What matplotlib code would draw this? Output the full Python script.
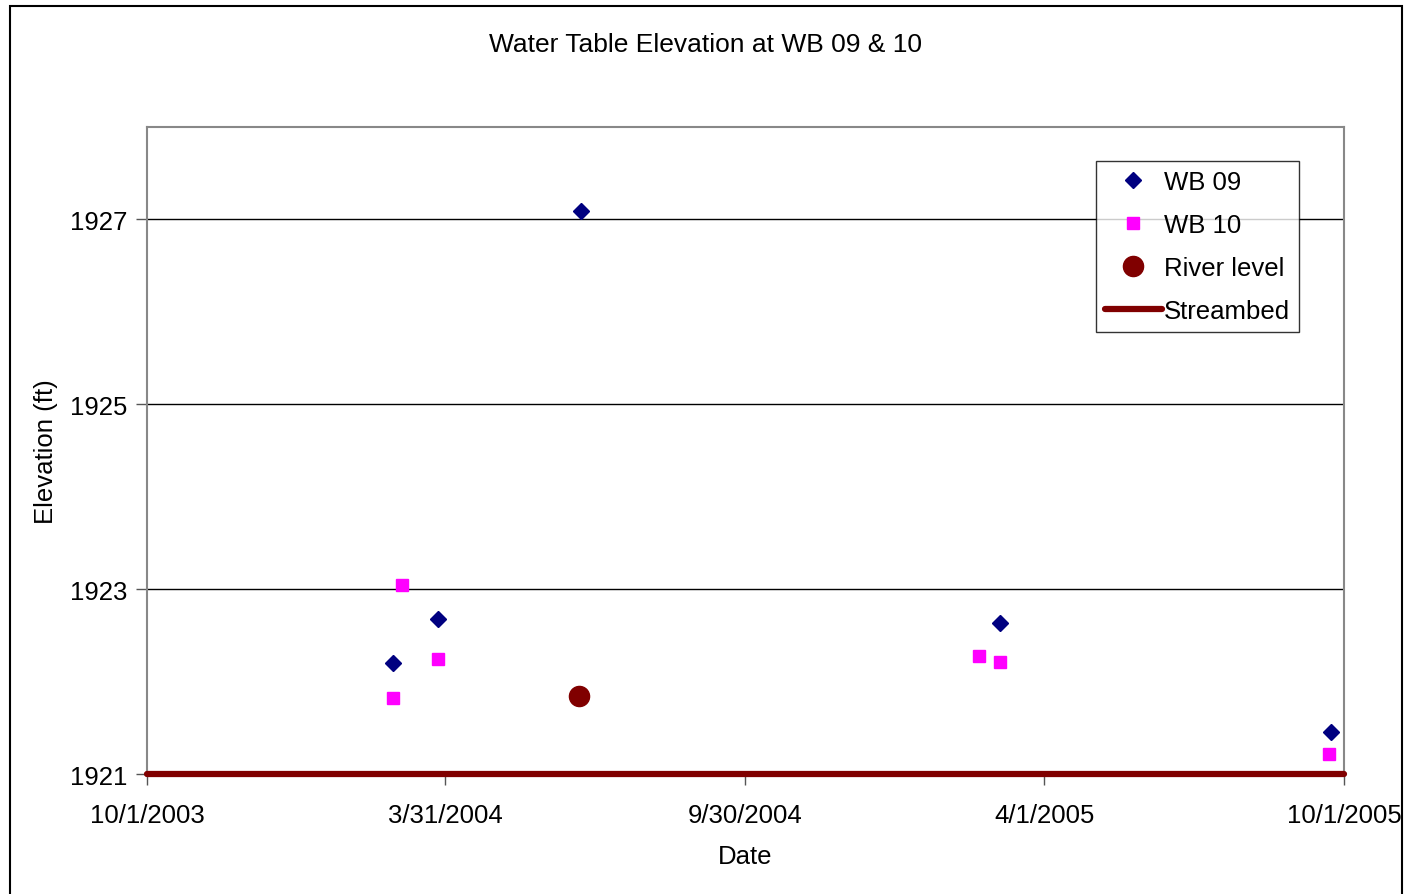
import pandas as pd
import matplotlib.pyplot as plt
from matplotlib.patches import Rectangle

plt.rcParams['font.family'] = ['Liberation Sans', 'DejaVu Sans']

# WB 09 observations
wb09_dates = pd.to_datetime(['2004-02-28', '2004-03-27', '2004-06-22', '2005-03-05', '2005-09-23'])
wb09_elev = [1922.20, 1922.68, 1927.09, 1922.63, 1921.46]

# WB 10 observations
wb10_dates = pd.to_datetime(['2004-02-28', '2004-03-05', '2004-03-27', '2005-02-20', '2005-03-05', '2005-09-22'])
wb10_elev = [1921.82, 1923.05, 1922.25, 1922.28, 1922.21, 1921.22]

# river level
river_dates = pd.to_datetime(['2004-06-21'])
river_elev = [1921.84]

# streambed
bed_dates = pd.to_datetime(['2003-10-01', '2005-10-01'])
bed_elev = [1921, 1921]

tick_dates = pd.to_datetime(['2003-10-01', '2004-03-31', '2004-09-30', '2005-04-01', '2005-10-01'])
tick_labels = ['10/1/2003', '3/31/2004', '9/30/2004', '4/1/2005', '10/1/2005']

fs = 18.5

fig = plt.figure(figsize=(14.04, 8.95), dpi=100)
ax = fig.add_axes([0.1047, 0.134, 0.8526, 0.723])

# outer chart border
fig.patches.append(Rectangle((10/1404, -0.02), (1402-10)/1404, 1.02 - 7/895,
                             transform=fig.transFigure, fill=False, edgecolor='black', lw=1.5))

ax.plot(wb09_dates, wb09_elev, 'D', color='#000080', markersize=8.3, label='WB 09', clip_on=False, zorder=4)
ax.plot(wb10_dates, wb10_elev, 's', color='#FF00FF', markersize=8.8, label='WB 10', clip_on=False, zorder=4)
ax.plot(river_dates, river_elev, 'o', color='#800000', markersize=14.5, label='River level', zorder=4)
ax.plot(bed_dates, bed_elev, '-', color='#800000', lw=4.5, label='Streambed', solid_capstyle='round',
        clip_on=False, zorder=5)

ax.set_xlim(bed_dates[0], bed_dates[1])
ax.set_ylim(1921, 1928)
ax.set_yticks([1921, 1923, 1925, 1927])
ax.set_xticks(tick_dates)
ax.set_xticklabels(tick_labels)
ax.yaxis.grid(True, color='black', lw=1)
ax.set_axisbelow(True)
ax.tick_params(axis='both', direction='out', length=8, width=1, colors='#555555', labelcolor='black',
               labelsize=fs)
ax.tick_params(axis='x', pad=13)
ax.tick_params(axis='y', pad=6)
for s in ax.spines.values():
    s.set_color('#888888')
    s.set_linewidth(1.5)

fig.text(706/1404, 1 - 45/895, 'Water Table Elevation at WB 09 & 10', fontsize=19, ha='center', va='center')
ax.set_xlabel('Date', fontsize=fs, labelpad=12)
ax.set_ylabel('Elevation (ft)', fontsize=fs, labelpad=9)

leg = ax.legend(loc='upper left', bbox_to_anchor=(1096/1404, 1 - 162/895), bbox_transform=fig.transFigure,
                fontsize=fs, frameon=True, fancybox=False, edgecolor='black', handlelength=2.2,
                handletextpad=0.1, borderpad=0.35, labelspacing=0.74, borderaxespad=0)
leg.get_frame().set_linewidth(1)

fig.savefig('out.png', dpi=100)
